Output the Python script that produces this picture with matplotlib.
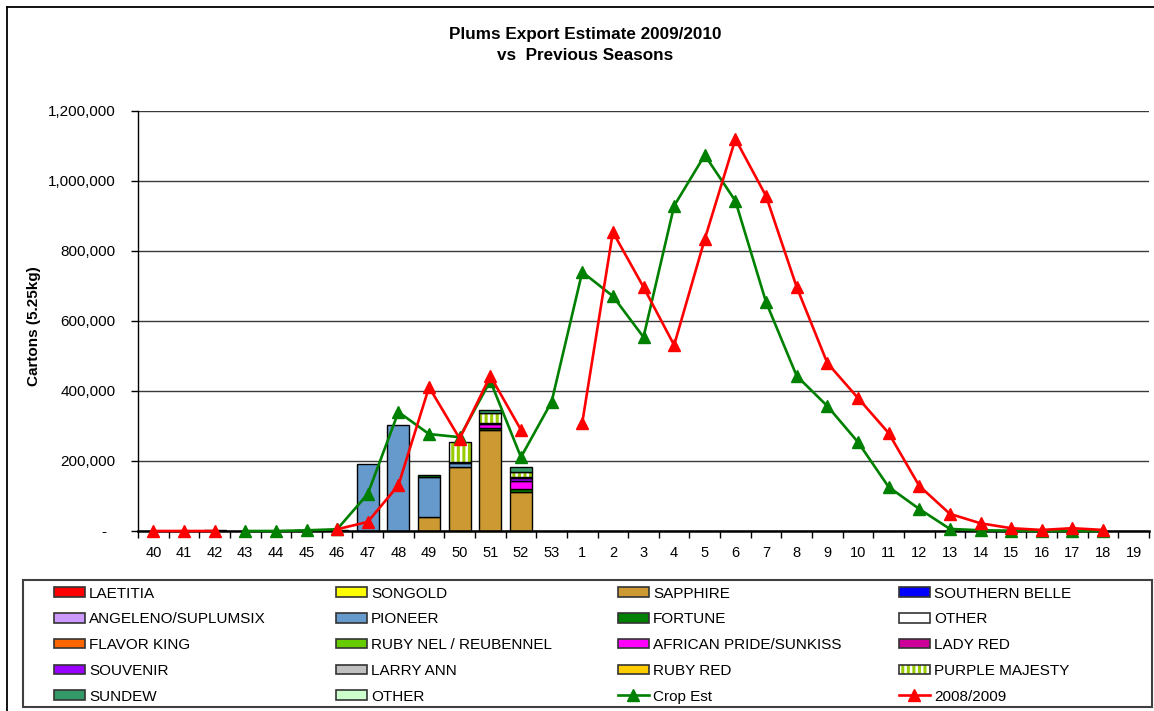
import numpy as np
import matplotlib
matplotlib.use('Agg')
import matplotlib.pyplot as plt
from matplotlib.patches import Patch, Rectangle
from matplotlib.lines import Line2D
from matplotlib.ticker import FuncFormatter, FixedLocator

plt.rcParams['font.family'] = ['Liberation Sans', 'DejaVu Sans']
plt.rcParams['hatch.linewidth'] = 2.2

nan = np.nan
weeks = [str(w) for w in range(40, 54)] + [str(w) for w in range(1, 20)]

crop_est = [nan, nan, nan, 0, 0, 2000, 5000, 106000, 340000, 277000, 268000,
            429000, 211000, 369000,
            740000, 671000, 554000, 929000, 1074000, 943000, 654000, 443000,
            357000, 254000, 126000, 63000, 6000, 2000, 1000, 0, 0, 0, nan]
prev_season = [0, 0, 0, nan, nan, nan, 5000, 26000, 131000, 411000, 264000,
               443000, 289000, nan,
               309000, 854000, 697000, 531000, 834000, 1120000, 957000, 697000,
               480000, 380000, 280000, 129000, 49000, 22000, 8000, 3000, 8000,
               3000, nan]

bar_weeks = ['42', '45', '46', '47', '48', '49', '50', '51', '52']
laetitia       = [0, 0, 0, 0, 0, 0, 0, 0, 0]
songold        = [0, 0, 0, 0, 0, 0, 0, 0, 0]
sapphire       = [0, 0, 0, 0, 0, 39000, 182000, 290000, 112000]
southern_belle = [0, 0, 0, 0, 0, 0, 0, 0, 0]
angeleno       = [0, 0, 0, 0, 0, 0, 0, 0, 0]
pioneer        = [0, 0, 0, 192000, 302000, 116000, 11000, 0, 0]
fortune        = [0, 0, 0, 0, 0, 4000, 0, 4000, 7000]
other          = [3000, 2000, 2000, 0, 0, 0, 0, 0, 0]
flavor_king    = [0, 0, 0, 0, 0, 0, 0, 0, 0]
ruby_nel       = [0, 0, 0, 0, 0, 0, 0, 0, 0]
african_pride  = [0, 0, 0, 0, 0, 0, 3000, 12000, 24000]
lady_red       = [0, 0, 0, 0, 0, 0, 0, 2000, 0]
souvenir       = [0, 0, 0, 0, 0, 0, 0, 0, 8000]
larry_ann      = [0, 0, 0, 0, 0, 0, 0, 0, 3000]
ruby_red       = [0, 0, 0, 0, 0, 0, 0, 0, 0]
purple_majesty = [0, 0, 0, 0, 0, 0, 57000, 28000, 15000]
sundew         = [0, 0, 0, 0, 0, 0, 0, 9000, 15000]
other2         = [0, 0, 0, 0, 0, 0, 0, 0, 0]

series = [
    ('LAETITIA', laetitia, '#FF0000'),
    ('SONGOLD', songold, '#FFFF00'),
    ('SAPPHIRE', sapphire, '#CC9933'),
    ('SOUTHERN BELLE', southern_belle, '#0000FF'),
    ('ANGELENO/SUPLUMSIX', angeleno, '#CC99FF'),
    ('PIONEER', pioneer, '#6699CC'),
    ('FORTUNE', fortune, '#008000'),
    ('OTHER', other, '#FFFFFF'),
    ('FLAVOR KING', flavor_king, '#FF6600'),
    ('RUBY NEL / REUBENNEL', ruby_nel, '#66CC00'),
    ('AFRICAN PRIDE/SUNKISS', african_pride, '#FF00FF'),
    ('LADY RED', lady_red, '#CC0099'),
    ('SOUVENIR', souvenir, '#9900FF'),
    ('LARRY ANN', larry_ann, '#C0C0C0'),
    ('RUBY RED', ruby_red, '#FFCC00'),
    ('PURPLE MAJESTY', purple_majesty, 'HATCH'),
    ('SUNDEW', sundew, '#339966'),
    ('OTHER', other2, '#CCFFCC'),
]

W, H = 1154, 711
fig = plt.figure(figsize=(W / 100, H / 100), dpi=100)
ax = fig.add_axes([138 / W, (H - 531) / H, (1149 - 138) / W, 420 / H])

x_all = np.arange(len(weeks))
bx = np.array([weeks.index(w) for w in bar_weeks])
bottom = np.zeros(len(bar_weeks))
bw = 0.72
stripe = '#99CC00'
for name, vals, col in series:
    v = np.array(vals, dtype=float)
    m = v > 0
    if m.any():
        if col == 'HATCH':
            ax.bar(bx[m], v[m], bw, bottom=bottom[m], color='white',
                   edgecolor=stripe, hatch='|||', linewidth=0, zorder=2)
            ax.bar(bx[m], v[m], bw, bottom=bottom[m], fill=False,
                   edgecolor='black', linewidth=1.0, zorder=2)
        else:
            ax.bar(bx[m], v[m], bw, bottom=bottom[m], color=col,
                   edgecolor='black', linewidth=1.0, zorder=2)
    bottom += v

ax.plot(x_all, crop_est, color='#008000', lw=1.9, marker='^', ms=8,
        zorder=3, clip_on=False)
ax.plot(x_all, prev_season, color='#FF0000', lw=1.9, marker='^', ms=8,
        zorder=4, clip_on=False)

ax.set_xlim(-0.5, len(weeks) - 0.5)
ax.set_ylim(0, 1200000)
ax.set_yticks(np.arange(0, 1200001, 200000))
ax.yaxis.set_major_formatter(FuncFormatter(lambda v, p: '-  ' if v == 0 else f'{v:,.0f}'))
ax.tick_params(axis='y', length=5, width=1, pad=11, labelsize=11, direction='out')
ax.xaxis.set_major_locator(FixedLocator(np.arange(len(weeks) + 1) - 0.5))
ax.xaxis.set_minor_locator(FixedLocator(x_all))
ax.set_xticklabels([], minor=False)
ax.set_xticks(x_all, weeks, minor=True)
ax.tick_params(axis='x', which='major', length=5, width=1, direction='out')
ax.tick_params(axis='x', which='minor', length=0, pad=11, labelsize=10.5)

ax.yaxis.grid(True, color='#3a3a3a', lw=1)
ax.set_axisbelow(True)
for s in ['top', 'right']:
    ax.spines[s].set_visible(False)
ax.spines['left'].set_linewidth(1)
ax.spines['bottom'].set_linewidth(1.8)
ax.spines['bottom'].set_zorder(2.5)

fig.text(585 / W, 1 - 35 / H, 'Plums Export Estimate 2009/2010', ha='center', va='center',
         fontsize=12.3, fontweight='bold')
fig.text(585 / W, 1 - 55 / H, 'vs  Previous Seasons', ha='center', va='center',
         fontsize=12.3, fontweight='bold')
fig.text(34 / W, 1 - 326 / H, 'Cartons (5.25kg)', rotation=90, ha='center', va='center',
         fontsize=11, fontweight='bold')

# figure frame
fig.add_artist(Line2D([6.5 / W, 6.5 / W], [0, 1 - 6.5 / H], color='black', lw=1.3,
                      transform=fig.transFigure))
fig.add_artist(Line2D([6.5 / W, 1], [1 - 6.5 / H, 1 - 6.5 / H], color='black', lw=1.3,
                      transform=fig.transFigure))
# legend frame
fig.add_artist(Rectangle((23 / W, 1 - 707 / H), (1152 - 23) / W, (707 - 580) / H,
                         transform=fig.transFigure, fill=False, ec='#404040', lw=1.5))

handles = []
labels = []
for name, vals, col in series:
    if col == 'HATCH':
        h = (Patch(facecolor='white', edgecolor=stripe, hatch='|||', lw=0),
             Patch(fill=False, edgecolor='#333333', lw=1.2))
    else:
        h = Patch(facecolor=col, edgecolor='#333333', lw=1.2)
    handles.append(h)
    labels.append(name)
handles.append(Line2D([], [], color='#008000', lw=1.9, marker='^', ms=8))
labels.append('Crop Est')
handles.append(Line2D([], [], color='#FF0000', lw=1.9, marker='^', ms=8))
labels.append('2008/2009')

fs = 11
col_x = [54, 336, 618, 899]
for c in range(4):
    hs = handles[c::4]
    ls = labels[c::4]
    leg = fig.legend(hs, ls, loc='upper left', bbox_to_anchor=(col_x[c] / W, 1 - 586.5 / H),
                     frameon=False, fontsize=fs, borderpad=0, borderaxespad=0,
                     handlelength=31 / 15.28, handleheight=9 / 15.28,
                     handletextpad=4 / 15.28, labelspacing=0.77, numpoints=1)

fig.savefig('out.png', dpi=100)
